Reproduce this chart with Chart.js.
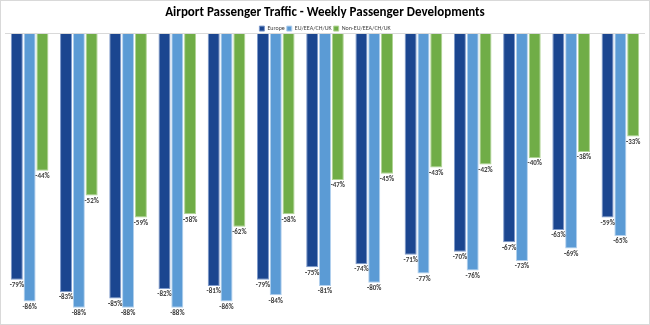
<!DOCTYPE html>
<html>
<head>
<meta charset="utf-8">
<script src="https://cdn.jsdelivr.net/npm/chart.js@4"></script>
<style>
  html,body{margin:0;padding:0;background:#fff;}
  .wrap{position:relative;width:648px;height:323px;border:1px solid #d9d9d9;}
</style>
</head>
<body>
<div class="wrap"><canvas id="paxChart"></canvas></div>
<script>
// weekly passenger change vs 2019, one group per week
const weeks = ["W1","W2","W3","W4","W5","W6","W7","W8","W9","W10","W11","W12","W13"];
const europe = [-79,-83,-85,-82,-81,-79,-75,-74,-71,-70,-67,-63,-59];
const euEea  = [-86,-88,-88,-88,-86,-84,-81,-80,-77,-76,-73,-69,-65];
const nonEu  = [-44,-52,-59,-58,-62,-58,-47,-45,-43,-42,-40,-38,-33];

const FONT = "Calibri, Carlito, 'Liberation Sans', Arial, sans-serif";

// value labels just under the end of each bar
const barLabels = {
  id: "barLabels",
  afterDatasetsDraw(chart){
    const {ctx} = chart;
    ctx.save();
    ctx.font = "bold 7px " + FONT;
    ctx.fillStyle = "#404040";
    ctx.textAlign = "center";
    ctx.textBaseline = "top";
    chart.data.datasets.forEach((ds, i) => {
      const meta = chart.getDatasetMeta(i);
      if (meta.hidden) return;
      meta.data.forEach((bar, j) => {
        ctx.fillText(ds.data[j] + "%", bar.x, bar.y + 2);
      });
    });
    ctx.restore();
  }
};

new Chart(document.getElementById("paxChart"), {
  type: "bar",
  data: {
    labels: weeks,
    datasets: [
      {label:"Europe", data:europe, backgroundColor:"#1B4690", borderColor:"#7e9acb", borderWidth:1},
      {label:"EU/EEA/CH/UK", data:euEea, backgroundColor:"#5B9BD5", borderColor:"#b3d1ee", borderWidth:1},
      {label:"Non-EU/EEA/CH/UK", data:nonEu, backgroundColor:"#70AD47", borderColor:"#b0d494", borderWidth:1}
    ]
  },
  options: {
    responsive: true,
    maintainAspectRatio: false,
    animation: false,
    layout: {padding: {top: 4, left: 4, right: 4, bottom: 10}},
    datasets: {bar: {categoryPercentage: 0.78, barPercentage: 0.94}},
    plugins: {
      title: {
        display: true,
        text: "Airport Passenger Traffic - Weekly Passenger Developments",
        color: "#000",
        font: {family: FONT, size: 13, weight: "bold"},
        padding: {top: 0, bottom: 3}
      },
      legend: {
        maxHeight: 10,
        labels: {
          color: "#404040",
          font: {family: FONT, size: 6},
          boxWidth: 5,
          boxHeight: 5,
          padding: 2
        }
      },
      tooltip: {enabled: false}
    },
    scales: {
      x: {display: false},
      y: {
        min: -90,
        max: 0,
        border: {display: false},
        ticks: {display: false},
        grid: {
          drawTicks: false,
          color: (c) => c.tick && c.tick.value === 0 ? "#d9d9d9" : "transparent"
        }
      }
    }
  },
  plugins: [barLabels]
});
</script>
</body>
</html>
